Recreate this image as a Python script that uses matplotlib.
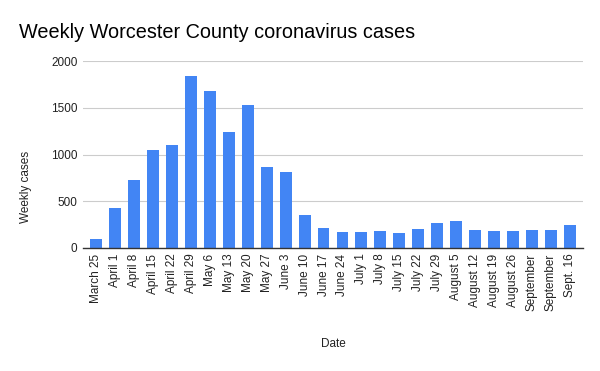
import matplotlib
matplotlib.use("Agg")
import matplotlib.pyplot as plt

plt.rcParams['font.family'] = ['Liberation Sans', 'DejaVu Sans']

dates = ["March 25", "April 1", "April 8", "April 15", "April 22", "April 29",
         "May 6", "May 13", "May 20", "May 27", "June 3", "June 10", "June 17",
         "June 24", "July 1", "July 8", "July 15", "July 22", "July 29",
         "August 5", "August 12", "August 19", "August 26", "September",
         "September", "Sept. 16"]
cases = [100, 425, 725, 1046, 1100, 1839, 1679, 1239, 1529, 864, 811, 354, 211,
         170, 175, 186, 164, 207, 271, 293, 196, 186, 186, 196, 196, 250]
yticks = [0, 500, 1000, 1500, 2000]

fig = plt.figure(figsize=(6, 3.71), dpi=100)
ax = fig.add_axes([83/600, 1-248/371, (583-83)/600, (248-61)/371])

x = list(range(len(dates)))
ax.bar(x, cases, width=0.63, color='#4285F4', zorder=3)
ax.set_xlim(-0.7, len(dates) - 0.3)
ax.set_ylim(0, 2000)
ax.set_yticks(yticks)
ax.set_yticklabels([str(v) for v in yticks], fontsize=8.5, color='#222222')
ax.set_xticks(x)
ax.set_xticklabels(dates, rotation=90, fontsize=8.5, color='#222222')
ax.tick_params(axis='both', length=0, pad=4)
ax.grid(axis='y', color='#cccccc', linewidth=0.8, zorder=0)
for s in ['top', 'right', 'left']:
    ax.spines[s].set_visible(False)
ax.spines['bottom'].set_color('#333333')
ax.spines['bottom'].set_linewidth(1)
ax.spines['bottom'].set_zorder(4)

fig.text(26/600, 1-186.5/371, 'Weekly cases', fontsize=8.5, color='#222222',
         ha='center', va='center', rotation=90)
fig.text(333/600, 1-344/371, 'Date', fontsize=8.5, color='#222222', ha='center', va='center')
fig.text(19/600, 1-33/371, 'Weekly Worcester County coronavirus cases', fontsize=14.3,
         color='#000000', ha='left', va='center')

fig.savefig('out.png', dpi=100)
